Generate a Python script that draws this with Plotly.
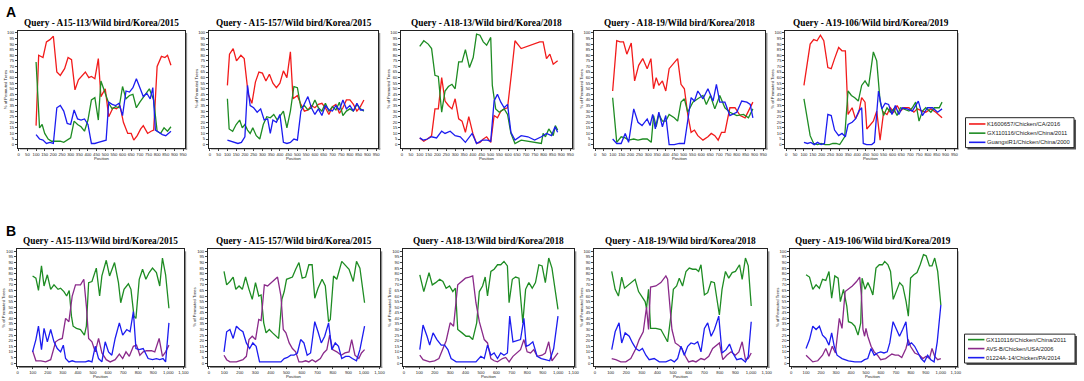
import plotly.graph_objects as go

W, H = 1084, 381

# ---------------- DATA : panel A (x = Position, y = % of Permuted Trees) ----------------
A1_red_x = [100,115,140,160,180,200,220,240,265,285,305,325,345,365,385,405,420,440,460,475,500,520,545,565,585,605,630,650,665,685,705,720,745,765,780,800,825,845,860,880]
A1_red_y = [17,80,78,92,94,97,65,62,68,78,76,49,58,62,65,60,61,59,77,43,50,25,33,32,35,20,10,10,4,8,14,17,10,12,13,70,79,78,80,71]
A1_grn_x = [100,120,135,150,170,190,220,240,260,280,300,320,340,360,380,400,420,440,460,475,495,520,540,560,580,600,620,640,660,680,700,720,740,755,780,800,820,840,860,880]
A1_grn_y = [74,15,18,10,5,3,3,3,2,4,6,21,18,16,12,22,40,42,22,57,48,37,32,34,33,52,41,44,45,33,38,42,46,50,40,12,10,15,12,16]
A1_blu_x = [100,120,140,160,180,200,220,240,260,280,300,320,340,360,380,400,420,440,460,490,505,520,540,560,580,600,620,640,660,680,700,720,740,760,775,790,810,830,850,880]
A1_blu_y = [9,5,4,1,2,1,33,35,30,19,18,31,23,22,23,18,1,1,2,3,4,38,36,35,37,26,48,47,51,59,50,43,46,41,51,13,11,9,8,12]

A2_red_x = [100,112,133,152,177,196,219,240,260,280,300,320,340,360,380,400,420,440,460,475,500,520,540,560,580,600,620,640,660,680,700,720,740,760,780,800,820,840,860,880]
A2_red_y = [53,81,86,75,80,77,45,37,56,65,64,57,63,55,51,55,66,60,83,41,44,36,30,31,35,33,36,37,33,27,34,36,28,33,40,40,36,30,34,40]
A2_grn_x = [100,110,130,150,170,185,200,215,230,245,265,285,305,325,345,365,385,405,420,440,460,480,500,520,540,560,580,600,620,640,660,680,700,720,740,760,780,800,820,840,860,880]
A2_grn_y = [41,14,12,18,22,15,18,13,10,15,8,5,18,25,24,27,22,27,30,15,30,52,51,33,35,31,33,40,33,30,37,30,34,31,38,26,30,32,30,36,32,30]
A2_blu_x = [100,120,140,160,180,200,215,230,250,270,290,310,330,345,360,380,400,420,440,460,480,500,520,540,560,580,600,620,640,660,680,700,720,740,760,780,800,820,840,860,880]
A2_blu_y = [4,3,2,1,2,7,53,35,33,29,32,22,23,10,22,20,27,2,1,2,5,4,30,36,43,33,27,32,26,35,31,30,35,31,40,32,35,30,37,31,31]

A3_red_x = [100,123,143,167,186,205,224,243,262,282,300,320,339,358,377,400,421,440,459,478,501,520,539,558,577,596,619,638,673,711,749,778,797,816,835,854,879]
A3_red_y = [6,3,5,8,32,32,60,39,35,32,41,23,21,11,25,10,1,2,5,7,2,26,24,30,32,33,65,93,86,88,90,92,92,77,81,72,75]
A3_grn_x = [100,123,148,167,186,205,224,243,262,282,300,320,339,358,381,402,421,440,459,478,501,510,529,549,577,596,615,638,673,711,749,787,797,810,829,854,866,879]
A3_grn_y = [88,93,90,86,62,61,29,48,52,54,50,74,74,85,69,78,99,98,92,89,96,53,32,29,32,27,10,1,4,3,2,1,10,7,14,8,17,13]
A3_blu_x = [100,120,143,167,195,224,243,272,300,329,358,396,421,453,482,501,520,539,558,577,596,615,638,673,711,749,787,816,844,864,879]
A3_blu_y = [6,4,5,7,6,12,10,12,8,7,2,10,1,4,4,3,39,45,38,33,36,11,4,8,7,4,7,10,8,16,11]

A4_red_x = [99,122,141,160,179,204,223,246,269,294,315,330,345,360,380,399,418,445,466,485,504,523,542,561,580,609,637,656,676,695,714,733,761,790,819,847,876,891]
A4_red_y = [48,93,92,92,81,91,57,71,77,68,77,50,60,53,57,48,68,73,77,54,50,27,11,13,8,4,7,10,8,4,11,11,33,33,26,24,33,38]
A4_grn_x = [99,122,147,170,189,218,242,269,294,317,330,345,360,380,399,418,447,466,485,504,523,552,580,609,628,651,676,704,733,761,800,838,866,891]
A4_grn_y = [42,2,7,6,4,5,4,5,5,2,26,16,27,21,21,27,24,21,38,41,29,38,41,44,36,44,32,44,33,29,26,27,24,32]
A4_blu_x = [99,122,147,170,189,218,242,265,294,310,325,340,360,380,399,418,447,475,504,523,542,561,580,609,637,666,685,704,733,761,800,828,857,876,891]
A4_blu_y = [5,1,1,10,2,32,20,17,23,17,27,14,29,16,26,0,0,1,1,24,42,39,48,41,50,39,54,38,38,26,29,39,38,36,24]

A5_red_x = [100,135,155,174,193,212,235,254,273,296,315,334,349,372,391,410,426,445,455,473,492,511,530,550,569,588,607,626,645,664,693,721,740,769,788,817,845,880]
A5_red_y = [53,90,94,93,98,93,69,68,77,87,84,84,27,33,23,29,42,38,14,17,21,30,4,29,27,33,29,35,30,33,33,29,32,30,29,32,29,24]
A5_grn_x = [100,135,155,177,197,219,244,263,282,302,330,349,368,387,407,426,445,465,492,511,530,550,569,588,607,626,645,664,693,712,731,750,769,788,817,836,864,880]
A5_grn_y = [41,8,1,0,1,0,0,1,1,0,7,48,44,42,39,53,57,52,83,75,39,26,33,29,32,26,33,32,30,33,38,21,30,33,29,33,33,38]
A5_blu_x = [100,120,139,158,177,197,216,235,254,273,296,315,334,349,372,391,410,426,435,454,483,498,521,540,559,578,597,616,636,655,683,712,746,769,798,826,855,880]
A5_blu_y = [2,1,2,0,2,0,1,27,26,13,8,10,7,18,20,23,30,33,1,0,0,2,48,32,37,36,27,35,27,33,32,30,39,26,33,33,29,32]

# ---------------- DATA : panel B ----------------
B1_grn_x = [99,121,138,158,175,197,219,241,268,285,307,325,342,357,368,390,417,443,456,471,493,522,544,559,588,610,643,669,684,706,735,752,772,785,807,829,851,873,895,921,943,961,982,1004]
B1_grn_y = [78,76,65,87,69,79,66,70,66,67,64,60,65,42,33,31,30,25,33,72,73,85,60,78,92,78,90,72,54,66,71,66,42,40,75,84,75,81,85,81,69,94,79,49]
B1_pur_x = [99,121,154,186,219,252,274,296,318,340,362,384,417,439,456,471,493,515,537,559,588,614,647,675,697,719,741,768,789,811,833,855,888,910,939,961,982,1004]
B1_pur_y = [11,2,2,1,3,19,21,22,40,37,60,70,70,75,51,22,19,10,22,9,3,1,3,8,4,10,6,15,16,7,10,11,11,10,22,6,10,16]
B1_blu_x = [99,121,138,158,175,197,219,241,263,285,303,318,340,362,384,417,450,471,493,515,537,559,581,603,625,647,675,697,724,746,768,785,807,833,866,895,921,943,965,982,1004]
B1_blu_y = [10,21,33,12,31,19,30,19,13,10,16,4,1,2,1,1,1,2,1,15,4,1,19,10,7,22,36,25,30,28,46,13,12,13,4,3,4,3,4,1,36]

B2_grn_x = [98,115,136,157,174,195,216,237,259,280,301,322,337,354,369,390,411,433,450,471,486,501,522,539,560,581,602,624,645,666,683,704,730,751,772,783,804,825,857,878,904,931,952,974,1004]
B2_grn_y = [82,70,73,77,66,69,66,77,66,57,72,60,61,36,27,30,27,24,22,57,64,75,76,77,84,90,76,77,88,88,58,67,75,69,37,39,78,75,91,88,84,73,91,85,54]
B2_pur_x = [98,115,136,178,220,242,259,280,301,322,337,358,379,401,422,443,465,480,497,518,539,560,581,602,624,645,666,688,719,740,761,779,798,825,853,878,904,921,942,967,984,1004]
B2_pur_y = [7,3,1,1,3,6,21,24,21,39,38,70,69,72,75,77,60,30,27,18,13,10,1,1,2,1,3,1,4,9,12,25,12,10,7,9,10,21,7,4,9,12]
B2_blu_x = [98,115,136,157,178,199,220,242,263,284,305,327,348,390,433,465,486,507,528,549,571,592,613,634,656,683,704,725,747,772,793,815,836,857,882,904,925,952,974,1004]
B2_blu_y = [10,28,30,22,33,30,28,18,13,18,15,1,1,1,1,1,4,5,7,7,9,21,18,7,9,37,28,18,24,36,12,18,15,4,6,6,4,2,12,33]

B3_grn_x = [103,129,163,184,206,232,253,274,296,317,334,349,377,403,424,446,472,489,510,527,542,564,585,607,628,649,671,682,703,724,746,771,789,810,832,853,875,896,917,939,960,999]
B3_grn_y = [79,64,81,70,72,75,73,67,69,64,67,30,27,24,24,21,36,64,69,77,60,82,84,88,88,91,87,54,75,77,76,36,66,72,67,72,88,87,72,94,85,48]
B3_pur_x = [103,124,167,199,227,253,274,300,322,349,371,399,424,446,467,489,521,542,564,585,607,639,660,682,707,735,756,778,799,821,842,864,896,917,939,960,981,999]
B3_pur_y = [7,3,1,2,4,12,20,36,33,70,73,76,77,78,54,37,21,18,4,2,1,4,5,1,6,9,12,21,10,9,12,6,7,9,19,2,6,9]
B3_blu_x = [103,124,150,167,189,214,242,264,285,306,339,381,424,467,499,521,542,564,585,607,628,649,671,686,707,735,756,778,793,810,836,864,891,917,945,971,999]
B3_blu_y = [12,34,24,16,27,21,16,16,12,4,1,1,1,1,6,4,16,7,9,4,9,7,9,42,19,20,21,40,15,16,19,6,4,3,2,13,42]

B4_grn_x = [107,129,150,171,189,214,236,257,279,300,321,330,343,356,390,422,454,465,486,502,523,540,561,583,604,626,647,664,679,701,722,744,765,797,814,836,857,879,900,926,943,964,982,1001]
B4_grn_y = [82,66,60,77,67,70,72,75,64,60,55,49,66,31,31,30,22,19,42,66,69,76,69,82,85,84,84,82,88,61,63,73,72,43,66,82,76,81,82,88,75,94,87,51]
B4_pur_x = [107,133,165,197,229,262,283,309,330,343,356,390,422,454,465,480,493,514,535,557,579,600,626,647,679,701,729,754,776,797,819,844,872,900,922,943,964,982,1001]
B4_pur_y = [4,3,1,1,4,13,21,28,50,30,68,69,72,78,75,54,30,18,16,13,6,1,2,1,4,3,6,13,16,18,3,7,10,7,10,19,3,4,9]
B4_blu_x = [107,129,154,171,193,219,240,262,283,304,326,347,379,412,454,486,508,529,551,572,594,615,637,658,679,701,722,744,765,793,814,840,862,883,908,937,964,982,1001]
B4_blu_y = [12,28,36,18,27,24,18,13,11,13,7,3,4,1,1,3,1,4,15,7,15,18,17,19,10,31,36,24,30,42,9,12,17,9,3,4,1,6,37]

B5_grn_x = [100,123,145,167,189,210,232,253,271,292,314,329,350,372,383,404,426,447,465,474,494,513,530,546,567,589,610,625,647,664,682,703,725,746,768,783,798,820,841,862,884,902,924,941,959,979,1000]
B5_grn_y = [79,77,66,70,67,75,74,82,58,78,76,55,66,51,37,36,33,25,36,76,66,72,67,61,85,88,88,91,88,82,57,64,72,69,55,42,76,79,81,88,97,96,87,87,94,82,52]
B5_pur_x = [100,123,145,178,210,232,253,275,296,322,340,361,383,409,437,458,470,480,491,500,512,534,555,577,598,631,652,673,695,717,739,767,782,797,826,858,880,902,924,941,959,979,1000]
B5_pur_y = [7,4,1,2,7,13,6,15,9,40,31,64,66,69,73,77,60,30,24,31,24,15,10,7,3,4,6,8,7,7,5,13,21,15,9,7,4,6,4,13,6,3,4]
B5_blu_x = [100,123,145,167,189,210,232,253,271,288,307,340,383,426,469,491,512,534,555,577,598,620,642,659,681,702,724,745,767,782,804,825,847,868,890,912,933,955,976,1000]
B5_blu_y = [13,21,33,30,33,25,22,16,27,15,7,4,2,1,1,3,4,13,7,9,10,9,10,18,37,30,24,30,37,16,18,15,9,4,1,7,3,1,19,52]

# ---------------- labels ----------------
NAMES_A = ["K1600657/Chicken/CA/2016", "GX110116/Chicken/China/2011", "GuangxiR1/Chicken/China/2000"]
NAMES_B = ["GX110116/Chicken/China/2011", "AVS-B/Chicken/USA/2006", "01224A-14/Chicken/PA/2014"]
COLORS_A = ["#f21b1b", "#1e8c23", "#1c1cf0"]
COLORS_B = ["#1e8c23", "#8a2a8a", "#1c1cf0"]
QUERIES = ["Query - A15-113/Wild bird/Korea/2015", "Query - A15-157/Wild bird/Korea/2015",
           "Query - A18-13/Wild bird/Korea/2018", "Query - A18-19/Wild bird/Korea/2018",
           "Query - A19-106/Wild bird/Korea/2019"]
Y_TITLE = "% of Permuted Trees"
X_TITLE = "Position"

panelsA = [
    [(A1_red_x, A1_red_y), (A1_grn_x, A1_grn_y), (A1_blu_x, A1_blu_y)],
    [(A2_red_x, A2_red_y), (A2_grn_x, A2_grn_y), (A2_blu_x, A2_blu_y)],
    [(A3_red_x, A3_red_y), (A3_grn_x, A3_grn_y), (A3_blu_x, A3_blu_y)],
    [(A4_red_x, A4_red_y), (A4_grn_x, A4_grn_y), (A4_blu_x, A4_blu_y)],
    [(A5_red_x, A5_red_y), (A5_grn_x, A5_grn_y), (A5_blu_x, A5_blu_y)],
]
panelsB = [
    [(B1_grn_x, B1_grn_y), (B1_pur_x, B1_pur_y), (B1_blu_x, B1_blu_y)],
    [(B2_grn_x, B2_grn_y), (B2_pur_x, B2_pur_y), (B2_blu_x, B2_blu_y)],
    [(B3_grn_x, B3_grn_y), (B3_pur_x, B3_pur_y), (B3_blu_x, B3_blu_y)],
    [(B4_grn_x, B4_grn_y), (B4_pur_x, B4_pur_y), (B4_blu_x, B4_blu_y)],
    [(B5_grn_x, B5_grn_y), (B5_pur_x, B5_pur_y), (B5_blu_x, B5_blu_y)],
]

# ---------------- layout geometry (pixels) ----------------
A_L = [18, 210, 403, 597, 789]
A_R = [186, 380, 575, 769, 961]
B_L = [17, 209, 405, 597, 794]
B_R = [185, 382, 577, 771, 961]
A_T, A_B = 30, 147
B_T, B_B = 249, 366

SANS = "Liberation Sans"
SERIF = "Liberation Serif"

def px(x):
    return x / W

def py(y):
    return 1 - y / H

fig = go.Figure()
layout = dict(width=W, height=H, margin=dict(l=0, r=0, t=0, b=0), autosize=False,
              paper_bgcolor="white", plot_bgcolor="white", showlegend=False)
shapes, annotations = [], []

tickfont = dict(family=SANS, size=4.2, color="#222")

def add_panel(idx, L, R, T, Bt, series, names, colors, xr, dtick, fmt, title):
    sfx = "" if idx == 1 else str(idx)
    for (xs, ys), nm, c in zip(series, names, colors):
        fig.add_trace(go.Scatter(x=xs, y=ys, mode="lines", name=nm,
                                 line=dict(color=c, width=1.3),
                                 xaxis="x" + sfx, yaxis="y" + sfx, showlegend=False))
    common = dict(showgrid=False, zeroline=False, showline=True, mirror=True,
                  linecolor="#222", linewidth=1, ticks="outside", ticklen=2,
                  tickwidth=0.6, tickcolor="#444", tickfont=tickfont, tickangle=0)
    layout["xaxis" + sfx] = dict(domain=[px(L), px(R)], anchor="y" + sfx, range=xr,
                                 tick0=0, dtick=dtick, tickformat=fmt, **common)
    layout["yaxis" + sfx] = dict(domain=[py(Bt), py(T)], anchor="x" + sfx,
                                 range=[-2.7, 101.8], tick0=0, dtick=5, **common)
    # soft shadow of the frame (right and bottom)
    shapes.append(dict(type="rect", xref="paper", yref="paper", layer="below",
                       x0=px(R + 0.5), x1=px(R + 2), y0=py(Bt + 2), y1=py(T + 2),
                       fillcolor="#8c8c8c", line=dict(width=0)))
    shapes.append(dict(type="rect", xref="paper", yref="paper", layer="below",
                       x0=px(L + 2), x1=px(R + 2), y0=py(Bt + 2), y1=py(Bt + 0.5),
                       fillcolor="#8c8c8c", line=dict(width=0)))
    annotations.append(dict(text=title, xref="paper", yref="paper",
                            x=px((L + R) / 2), y=py(T - 8), xanchor="center", yanchor="middle",
                            showarrow=False,
                            font=dict(family=SERIF, size=9.3, color="black", weight="bold")))
    annotations.append(dict(text=X_TITLE, xref="paper", yref="paper",
                            x=px((L + R) / 2), y=py(Bt + 10.5), xanchor="center", yanchor="middle",
                            showarrow=False, font=dict(family=SANS, size=4.2, color="#222")))
    annotations.append(dict(text=Y_TITLE, xref="paper", yref="paper", textangle=-90,
                            x=px(L - 13), y=py((T + Bt) / 2), xanchor="center", yanchor="middle",
                            showarrow=False, font=dict(family=SANS, size=4.2, color="#222")))

for i in range(5):
    add_panel(i + 1, A_L[i], A_R[i], A_T, A_B, panelsA[i], NAMES_A, COLORS_A,
              [-5, 962], 50, "d", QUERIES[i])
for i in range(5):
    add_panel(i + 6, B_L[i], B_R[i], B_T, B_B, panelsB[i], NAMES_B, COLORS_B,
              [-5, 1105], 100, ",d", QUERIES[i])

# panel letters
annotations.append(dict(text="<b>A</b>", xref="paper", yref="paper", x=px(11), y=py(11),
                        showarrow=False, xanchor="center", yanchor="middle",
                        font=dict(family=SANS, size=14, color="black")))
annotations.append(dict(text="<b>B</b>", xref="paper", yref="paper", x=px(11), y=py(231),
                        showarrow=False, xanchor="center", yanchor="middle",
                        font=dict(family=SANS, size=14, color="black")))

# legend boxes
def add_legend(x0, x1, y0, y1, names, colors, rows):
    shapes.append(dict(type="rect", xref="paper", yref="paper",
                       x0=px(x0 + 2), x1=px(x1 + 2), y0=py(y1 + 2), y1=py(y0 + 2),
                       fillcolor="#555", line=dict(width=0)))
    shapes.append(dict(type="rect", xref="paper", yref="paper",
                       x0=px(x0), x1=px(x1), y0=py(y1), y1=py(y0),
                       fillcolor="white", line=dict(color="#222", width=1)))
    for nm, c, ry in zip(names, colors, rows):
        shapes.append(dict(type="line", xref="paper", yref="paper",
                           x0=px(x0 + 3.5), x1=px(x0 + 20), y0=py(ry), y1=py(ry),
                           line=dict(color=c, width=1.6)))
        annotations.append(dict(text=nm, xref="paper", yref="paper", x=px(x0 + 20), y=py(ry),
                                xanchor="left", yanchor="middle", showarrow=False,
                                font=dict(family=SANS, size=5.8, color="#222")))

add_legend(970, 1079, 117, 147, NAMES_A, COLORS_A, [123.3, 132.5, 141.7])
add_legend(969, 1080, 334, 363, NAMES_B, COLORS_B, [339.5, 348.5, 357.6])

layout["shapes"] = shapes
layout["annotations"] = annotations
fig.update_layout(**layout)
fig.write_html("out.html", config={"displayModeBar": False},
               post_script="document.body.style.margin='0';document.body.style.overflow='hidden';")
